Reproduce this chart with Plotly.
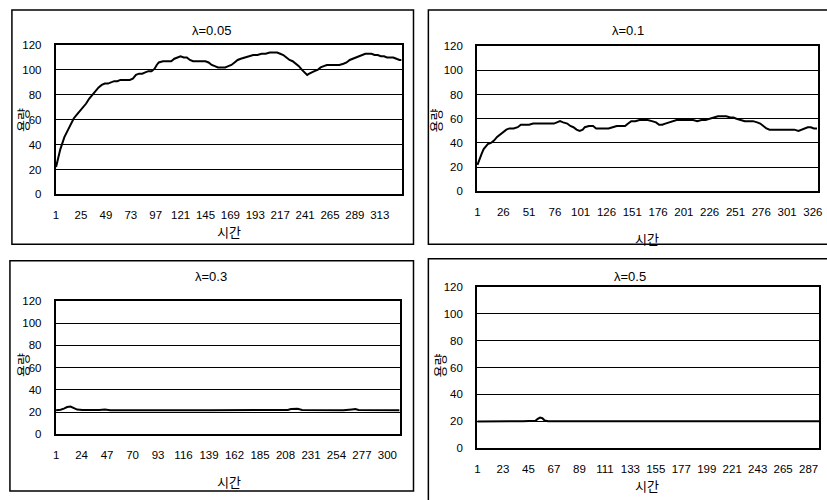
import plotly.graph_objects as go

# ---------------- data ----------------
titles = ["λ=0.05", "λ=0.1", "λ=0.3", "λ=0.5"]
y_ticks = [0, 20, 40, 60, 80, 100, 120]

t1 = [1, 3, 5, 7, 9, 12, 15, 18, 21, 24, 27, 30, 33, 36, 39, 42, 45, 48, 51, 54, 57, 60, 63, 66, 69, 72, 75, 78,
      81, 84, 87, 90, 93, 96, 98, 100, 104, 108, 112, 115, 118, 121, 124, 127, 130, 133, 137, 141, 145, 148, 151,
      154, 157, 160, 164, 167, 170, 173, 176, 179, 183, 187, 191, 195, 199, 203, 207, 211, 214, 217, 220, 223,
      226, 229, 232, 235, 238, 241, 243, 245, 247, 250, 253, 256, 259, 262, 266, 270, 274, 278, 281, 284, 287,
      290, 293, 296, 299, 302, 305, 308, 311, 314, 317, 320, 323, 326, 329, 332, 334]
v1 = [22, 30, 36, 41, 46, 51, 56, 61, 64, 67, 70, 73, 77, 80, 83, 86, 88, 89, 89, 90, 91, 91, 92, 92, 92, 92, 93, 96,
      97, 97, 98, 99, 99, 101, 104, 106, 107, 107, 107, 109, 110, 111, 110, 110, 108, 107, 107, 107, 107, 106, 104,
      103, 102, 102, 102, 103, 104, 106, 108, 109, 110, 111, 112, 112, 113, 113, 114, 114, 114, 113, 112, 110,
      108, 107, 105, 103, 100, 98, 96, 97, 98, 99, 100, 102, 103, 104, 104, 104, 104, 105, 106, 108, 109,
      110, 111, 112, 113, 113, 113, 112, 112, 111, 111, 110, 110, 110, 109, 108, 108]
xt1 = [1, 25, 49, 73, 97, 121, 145, 169, 193, 217, 241, 265, 289, 313]

t2 = [1, 3, 5, 7, 9, 11, 14, 17, 20, 23, 26, 29, 32, 36, 40, 43, 47, 51, 55, 59, 63, 67, 71, 75, 78, 81, 84, 88,
      91, 94, 97, 100, 103, 105, 109, 113, 116, 120, 124, 128, 132, 136, 140, 144, 147, 150, 154, 158, 162, 166,
      170, 174, 177, 180, 183, 187, 190, 194, 198, 202, 206, 210, 214, 218, 222, 226, 230, 234, 238, 242, 246,
      249, 252, 256, 260, 264, 268, 272, 275, 278, 281, 284, 288, 292, 296, 300, 304, 308, 312, 315, 318, 321,
      324, 327, 330]
v2 = [22, 27, 31, 35, 37, 39, 40, 42, 45, 47, 49, 51, 52, 52, 53, 55, 55, 55, 56, 56, 56, 56, 56, 56, 57, 58, 57, 56,
      54, 53, 51, 50, 51, 53, 54, 54, 52, 52, 52, 52, 53, 54, 54, 54, 56, 58, 58, 59, 59, 59,
      58, 57, 55, 55, 56, 57, 58, 59, 59, 59, 59, 59, 58, 59, 59, 60, 61, 62, 62, 62, 61,
      61, 60, 59, 58, 58, 58, 57, 56, 54, 52, 51, 51, 51, 51, 51, 51, 51, 50, 51, 52, 53,
      53, 52, 52]
xt2 = [1, 26, 51, 76, 101, 126, 151, 176, 201, 226, 251, 276, 301, 326]

t3 = [1, 5, 8, 11, 14, 17, 20, 25, 30, 40, 45, 50, 60, 70, 80, 90, 100, 120, 140, 160, 180, 200, 210, 213, 216,
      219, 223, 240, 260, 268, 271, 274, 290, 311]
v3 = [21.8, 22.2, 23.2, 24.6, 25.0, 23.5, 22.3, 22.0, 21.8, 22.0, 22.4, 21.8, 21.8, 21.7, 21.5, 21.8, 21.8, 21.7,
      21.8, 21.7, 21.8, 21.8, 21.9, 22.8, 23.2, 23.0, 22.0, 21.8, 21.8, 22.5, 22.8, 22.0, 21.8, 21.8]
xt3 = [1, 24, 47, 70, 93, 116, 139, 162, 185, 208, 231, 254, 277, 300]

t4 = [1, 10, 20, 30, 40, 48, 51, 53, 55, 57, 59, 62, 80, 100, 130, 160, 190, 220, 250, 280, 296]
v4 = [19.8, 20.0, 19.9, 20.0, 20.0, 20.0, 20.4, 21.8, 22.8, 22.3, 20.6, 20.0, 20.0, 19.9, 20.0, 20.0, 19.9,
      20.0, 20.0, 20.0, 20.0]
xt4 = [1, 23, 45, 67, 89, 111, 133, 155, 177, 199, 221, 243, 265, 287]

x_ranges = [[0.5, 334], [0.5, 331], [0.5, 311], [0.5, 296]]

# ---------------- layout (pixels) ----------------
W, H = 827, 500
plots = [  # left, top, right, bottom of plot areas
    (53, 40, 402, 193),
    (478, 41, 822, 190),
    (53, 302, 400, 439),
    (478, 288, 823, 453),
]
boxes = [
    (9, 4, 414, 244),
    (429, 4, 840, 244),
    (7, 261, 414, 497),
    (429, 259, 840, 510),
]
title_pos = [(210, 25), (630, 25), (210, 277), (632, 277)]
xtitle_pos = [(228, 231), (650, 238), (228, 487), (650, 491)]
ytitle_pos = [(19, 117), (436, 117), (19, 368), (440, 368)]

ts = [t1, t2, t3, t4]
vs = [v1, v2, v3, v4]
xts = [xt1, xt2, xt3, xt4]

FONT = "Liberation Sans"
fig = go.Figure()
shapes = []
annotations = []


def ann(text, pos, size, family, angle=0):
    return dict(text=text, xref="paper", yref="paper", x=pos[0] / W, y=1 - pos[1] / H,
                xanchor="center", yanchor="middle", showarrow=False, textangle=angle,
                font=dict(family=family, size=size, color="black"))


for i in range(4):
    n = "" if i == 0 else str(i + 1)
    fig.add_trace(go.Scatter(x=ts[i], y=vs[i], mode="lines", line=dict(color="black", width=2),
                             xaxis="x" + n, yaxis="y" + n, showlegend=False, hoverinfo="skip"))
    l, t, r, b = plots[i]
    fig.layout["xaxis" + n] = dict(
        domain=[l / W, r / W], anchor="y" + n, range=x_ranges[i], tickvals=xts[i],
        ticktext=[str(v) for v in xts[i]], showgrid=False, zeroline=False, showline=True,
        linecolor="black", linewidth=1.5, mirror=True, ticks="", ticklabelstandoff=9,
        tickfont=dict(family=FONT, size=11.5, color="black"), fixedrange=True)
    fig.layout["yaxis" + n] = dict(
        domain=[1 - b / H, 1 - t / H], anchor="x" + n, range=[0, 120], tickvals=y_ticks,
        showgrid=True, gridcolor="black", gridwidth=1, zeroline=False, showline=True,
        linecolor="black", linewidth=1.5, mirror=True, ticks="", ticklabelstandoff=10,
        tickfont=dict(family=FONT, size=11.5, color="black"), fixedrange=True)
    bl, bt, br, bb = boxes[i]
    shapes.append(dict(type="rect", xref="paper", yref="paper", x0=bl / W, x1=br / W,
                       y0=1 - bb / H, y1=1 - bt / H, line=dict(color="black", width=1.5)))
    annotations.append(ann(titles[i], title_pos[i], 13, FONT))
    annotations.append(ann("시간", xtitle_pos[i], 13, "Noto Sans CJK KR"))
    annotations.append(ann("용량", ytitle_pos[i], 13, "Noto Sans CJK KR", -90))

fig.update_layout(width=W, height=H, margin=dict(l=0, r=0, t=0, b=0),
                  paper_bgcolor="white", plot_bgcolor="white",
                  shapes=shapes, annotations=annotations)
fig.write_html("out.html", config={"displayModeBar": False},
               post_script="document.body.style.margin='0';document.body.style.overflow='hidden';")
